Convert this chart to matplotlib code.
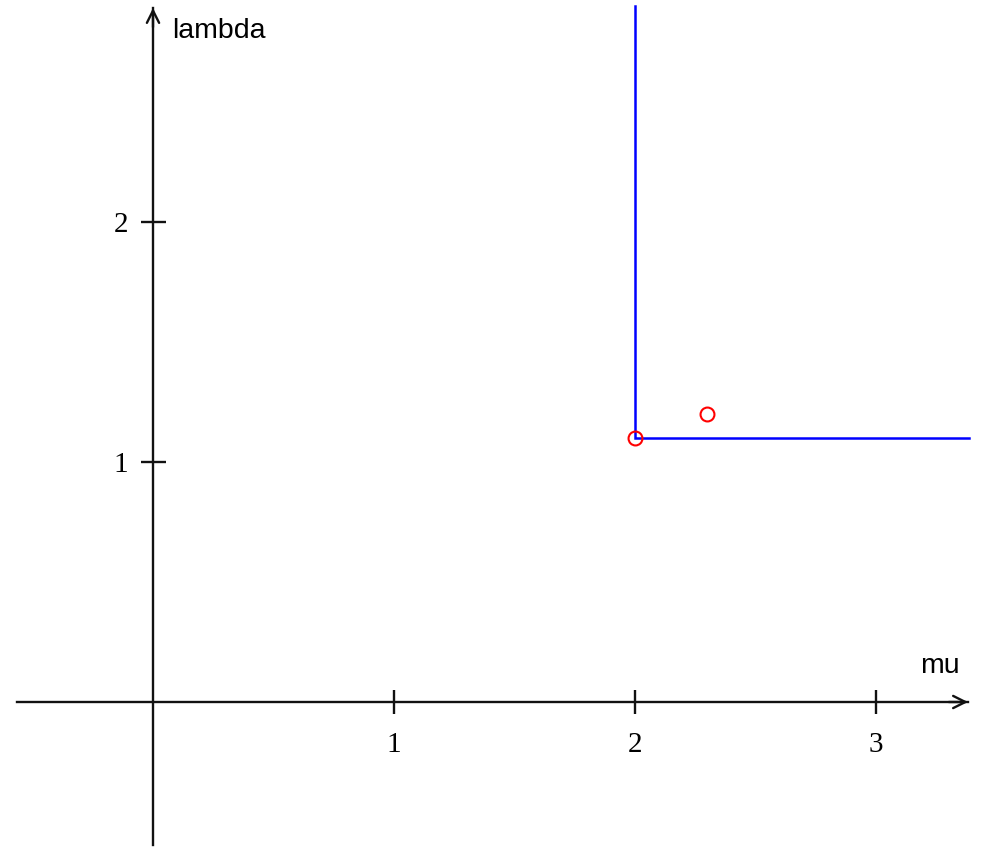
import matplotlib
matplotlib.use("Agg")
import matplotlib.pyplot as plt

# Feasible region boundary in the (mu, lambda) plane
corner_mu = 2.0
corner_lambda = 1.1
region_mu_end = 3.386
region_lambda_end = 2.9
# Marked points
points_mu = [2.0, 2.3]
points_lambda = [1.1, 1.2]
# Tick values
x_ticks = [1, 2, 3]
y_ticks = [1, 2]
x_label = "mu"
y_label = "lambda"

W, H, DPI = 982, 847, 100
fig = plt.figure(figsize=(W / DPI, H / DPI), dpi=DPI)
ax = fig.add_axes([0, 0, 1, 1])

px_per_x = 241.0
px_per_y = 240.0
x0_px, y0_px = 153.0, 702.0
ax.set_xlim(-x0_px / px_per_x, (W - x0_px) / px_per_x)
ax.set_ylim(-(H - y0_px) / px_per_y, y0_px / px_per_y)

axis_lw = 1.7
axis_col = "#111111"

# Axes through the origin
for side in ("top", "right"):
    ax.spines[side].set_visible(False)
ax.spines["left"].set_position(("data", 0))
ax.spines["bottom"].set_position(("data", 0))
ax.spines["left"].set_linewidth(axis_lw)
ax.spines["bottom"].set_linewidth(axis_lw)
ax.spines["left"].set_color(axis_col)
ax.spines["bottom"].set_color(axis_col)
x_axis_start = (17 - x0_px) / px_per_x
x_axis_end = (968 - x0_px) / px_per_x
y_axis_start = -(845 - y0_px) / px_per_y
y_axis_end = (y0_px - 8) / px_per_y
ax.spines["bottom"].set_bounds(x_axis_start, x_axis_end)
ax.spines["left"].set_bounds(y_axis_start, y_axis_end)

ax.set_xticks(x_ticks)
ax.set_yticks(y_ticks)
ax.set_xticklabels([str(t) for t in x_ticks])
ax.set_yticklabels([str(t) for t in y_ticks])
for lab in ax.get_xticklabels() + ax.get_yticklabels():
    lab.set_fontfamily("Liberation Serif")
    lab.set_fontsize(21)
ax.tick_params(axis="x", direction="inout", length=17, width=axis_lw,
               color=axis_col, pad=13)
ax.tick_params(axis="y", direction="inout", length=18, width=axis_lw,
               color=axis_col, pad=9)

# Open arrowheads at the positive ends of both axes
arrow_kw = dict(arrowstyle="->", lw=axis_lw, color=axis_col,
                mutation_scale=22, shrinkA=0, shrinkB=0)
ax.annotate("", xy=(x_axis_end, 0), xytext=(x_axis_end - 0.08, 0),
            arrowprops=arrow_kw)
ax.annotate("", xy=(0, y_axis_end), xytext=(0, y_axis_end - 0.08),
            arrowprops=arrow_kw)

# Axis names
ax.text(172 / W, 1 - 38 / H, y_label, transform=ax.transAxes,
        family="Liberation Sans", fontsize=20.5, va="baseline", ha="left")
ax.text(920 / W, 1 - 673 / H, x_label, transform=ax.transAxes,
        family="Liberation Sans", fontsize=20.5, va="baseline", ha="left")

# Region boundary
ax.plot([corner_mu, corner_mu, region_mu_end],
        [region_lambda_end, corner_lambda, corner_lambda],
        color="#0000ff", lw=1.8, solid_joinstyle="miter", zorder=3)

# Points
ax.plot(points_mu, points_lambda, linestyle="none", marker="o",
        markersize=10, markerfacecolor="none", markeredgecolor="#ff0000",
        markeredgewidth=1.5, zorder=4)

fig.savefig("out.png", dpi=DPI)
